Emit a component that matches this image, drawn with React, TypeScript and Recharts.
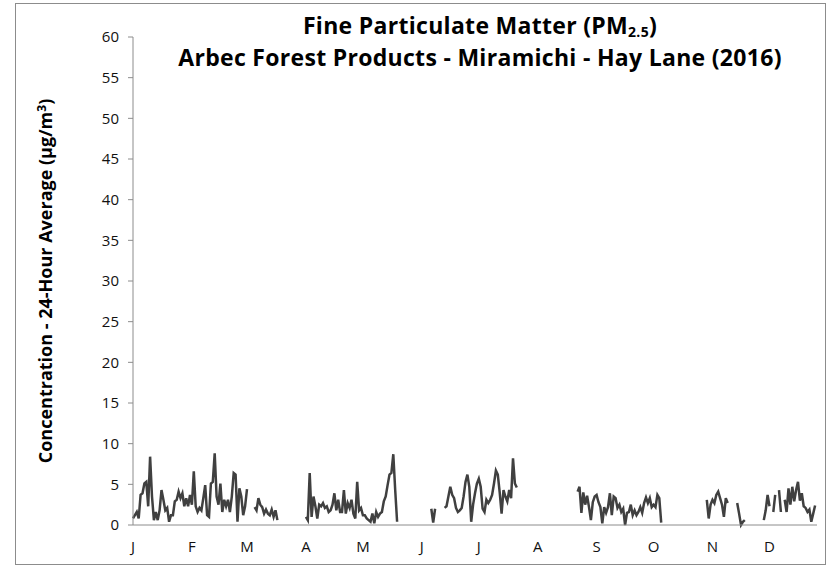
import React from 'react';
import { LineChart, Line, XAxis, YAxis } from 'recharts';

// daily 24-hour averages (µg/m³), null = no data
const jan = [0.8, 1.2, 1.6, 0.8, 3.7, 3.9, 5.1, 5.3, 2.3, 8.4, 3.5, 0.6, 1.6, 0.6, 1.8, 4.3, 3.1, 1.8, 2.1, 0.4, 1.2, 1.2, 2.9, 3.1, 4.1, 3.3, 3.9, 2.3, 3.3, 2.3, 3.7];
const feb = [2.5, 6.6, 2.3, 1.6, 2.1, 1.8, 3.3, 4.9, 1.2, 1.0, 5.1, 5.3, 8.8, 3.5, 2.5, 5.1, 1.6, 3.1, 2.3, 3.1, 1.6, 3.5, 6.4, 6.2, 0.4, 4.5, 3.5, 1.2, 2.3];
const mar = [4.4, null, null, null, 2.2, 1.8, 3.3, 2.5, 2.2, 1.4, 1.9, 1.4, 1.2, 1.9, 1.0, 1.8, 0.6, null, null, null, null, null, null, null, null, null, null, null, null, null, null];
const apr = [1.0, 0.6, 6.4, 1.0, 3.5, 2.3, 0.8, 2.5, 2.3, 2.7, 2.1, 2.3, 1.6, 1.8, 2.5, 3.9, 1.8, 3.1, 1.6, 1.6, 4.3, 1.4, 2.7, 2.1, 3.1, 1.4, 0.8, 5.3, 1.8, 2.1];
const may = [1.2, 1.2, 0.8, 0.6, 0.4, 1.4, 0.2, 1.6, 1.0, 1.4, 1.6, 2.9, 3.5, 4.9, 6.2, 6.4, 8.7, 4.3, 0.4, null, null, null, null, null, null, null, null, null, null, null, null];
const jun = [null, null, null, null, null, 2.0, 0.3, 2.0, null, null, null, null, 2.1, 2.3, 3.5, 4.7, 3.7, 3.3, 2.1, 1.6, 1.8, 2.1, 3.5, 5.3, 6.2, 4.7, 0.4, 2.5, 3.9, 5.1];
const jul = [5.7, 4.7, 2.0, 1.6, 3.1, 2.7, 3.1, 3.7, 5.1, 6.7, 6.2, 4.0, 1.4, 4.3, 3.5, 2.9, 4.3, 3.3, 8.2, 5.1, 4.6, null, null, null, null, null, null, null, null, null, null];
const aug = [null, null, null, null, null, null, null, null, null, null, null, null, null, null, null, null, null, null, null, null, null, 4.1, 4.7, 1.5, 4.0, 2.5, 3.6, 2.2, 0.6, 2.8, 3.5];
const sep = [3.7, 2.8, 2.2, 0.2, 2.2, 1.5, 2.2, 3.9, 1.2, 3.5, 3.3, 2.1, 2.5, 1.6, 2.0, 0.0, 1.5, 1.6, 2.5, 1.2, 1.8, 1.2, 1.6, 2.2, 1.5, 2.7, 3.4, 2.7, 3.3, 2.2];
const oct = [2.5, 2.2, 3.7, 3.3, 0.3, null, null, null, null, null, null, null, null, null, null, null, null, null, null, null, null, null, null, null, null, null, null, null, 3.1, 0.8, 2.5];
const nov = [3.1, 2.7, 3.7, 4.1, 3.3, 2.5, 1.0, 3.3, 2.7, null, null, null, null, 2.7, 1.4, 0.0, 0.4, 0.6, null, null, null, null, null, null, null, null, null, 0.6, 1.8, 3.7];
const dec = [2.3, null, 1.6, 3.7, null, 4.3, 1.6, null, 3.1, 1.6, 4.5, 2.5, 4.7, 2.9, 4.3, 5.3, 3.0, 3.9, 2.3, 2.1, 1.6, 1.9, 0.4, 1.4, 2.4];

const monthLabels = ['J', 'F', 'M', 'A', 'M', 'J', 'J', 'A', 'S', 'O', 'N', 'D'];
const yTicks = [0, 5, 10, 15, 20, 25, 30, 35, 40, 45, 50, 55, 60];

const months = [jan, feb, mar, apr, may, jun, jul, aug, sep, oct, nov, dec];
const monthStarts = months.map((_, i) => months.slice(0, i).reduce((s, m) => s + m.length, 0));
const data = months.flat().map((v, i) => ({ day: i, value: v }));

const FONT = '"Open Sans", sans-serif';

const titleLine: React.CSSProperties = {
  position: 'absolute', left: 130, width: 700, textAlign: 'center',
  fontWeight: 'bold', fontSize: 23, lineHeight: '24px', letterSpacing: 0.3, color: '#000',
  whiteSpace: 'nowrap',
};

export default function App() {
  return (
    <div style={{ position: 'absolute', left: 0, top: 0, width: 833, height: 566, background: '#fff', fontFamily: FONT }}>
      <div
        style={{
          position: 'absolute', left: 15, top: 3, width: 811, height: 562,
          border: '1px solid #8c8c8c', boxSizing: 'border-box',
        }}
      />
      <LineChart
        width={833}
        height={566}
        data={data}
        margin={{ top: 37, right: 16, bottom: 11, left: 0 }}
        style={{ position: 'absolute', left: 0, top: 0 }}
      >
        <XAxis
          dataKey="day"
          type="number"
          domain={[0, 360]}
          ticks={monthStarts}
          tickFormatter={(d) => monthLabels[monthStarts.indexOf(d)]}
          tickLine={false}
          tickMargin={10}
          height={30}
          stroke="#8c8c8c"
          tick={{ fill: '#111', fontSize: 15, fontFamily: FONT }}
          interval={0}
        />
        <YAxis
          domain={[0, 60]}
          ticks={yTicks}
          width={133}
          tickSize={5}
          tickMargin={9}
          stroke="#8c8c8c"
          tick={{ fill: '#111', fontSize: 15, fontFamily: FONT }}
          interval={0}
        />
        <Line
          dataKey="value"
          type="linear"
          stroke="#404040"
          strokeWidth={2.5}
          dot={false}
          isAnimationActive={false}
        />
      </LineChart>
      <div style={{ ...titleLine, top: 13 }}>
        Fine Particulate Matter (PM<sub style={{ fontSize: 14, verticalAlign: '-3px', lineHeight: 0 }}>2.5</sub>)
      </div>
      <div style={{ ...titleLine, top: 45 }}>
        Arbec Forest Products - Miramichi - Hay Lane (2016)
      </div>
      <div
        style={{
          position: 'absolute', left: 45, top: 281, transform: 'translate(-50%, -50%) rotate(-90deg)',
          whiteSpace: 'nowrap', fontWeight: 'bold', fontSize: 18, color: '#000',
        }}
      >
        Concentration - 24-Hour Average (µg/m<sup style={{ fontSize: 12, verticalAlign: '6px', lineHeight: 0 }}>3</sup>)
      </div>
    </div>
  );
}
